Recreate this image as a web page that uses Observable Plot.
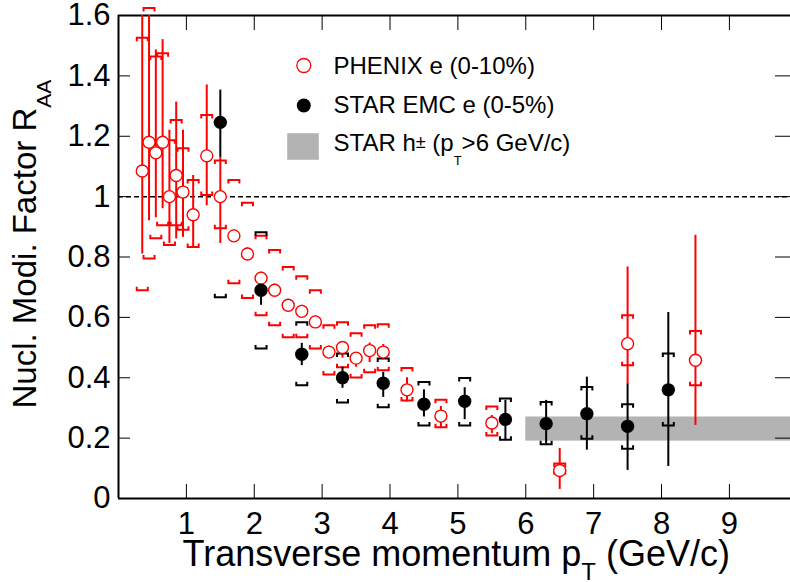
<!DOCTYPE html>
<html><head><meta charset="utf-8">
<script src="https://cdn.jsdelivr.net/npm/d3@7"></script>
<script src="https://cdn.jsdelivr.net/npm/@observablehq/plot@0.6"></script>
<style>body{margin:0;background:#fff}svg{display:block}</style>
</head><body><div id="chart"></div>
<script>
// ---- data ----
const phenixPt     = [0.35,0.45,0.55,0.65,0.75,0.85,0.95,1.1,1.3,1.5,1.7,1.9,2.1,2.3,2.5,2.7,2.9,3.1,3.3,3.5,3.7,3.9,4.25,4.75,5.5,6.5,7.5,8.5];
const phenixRaa    = [1.085,1.18,1.145,1.18,1.0,1.07,1.015,0.94,1.135,1.0,0.87,0.81,0.73,0.69,0.64,0.62,0.585,0.485,0.5,0.465,0.49,0.485,0.36,0.273,0.25,0.093,0.513,0.458];
const phenixStatLo = [0.81,0.92,0.93,0.96,0.845,0.86,0.865,0.83,0.97,0.845,0.85,0.79,0.71,0.67,0.62,0.6,0.565,0.465,0.465,0.435,0.45,0.46,0.32,0.232,0.215,0.03,0.38,0.242];
const phenixStatHi = [1.6,1.6,1.486,1.52,1.22,1.313,1.22,1.07,1.37,1.13,0.89,0.83,0.75,0.71,0.66,0.64,0.605,0.505,0.52,0.48,0.515,0.51,0.40,0.305,0.275,0.166,0.767,0.872];
const phenixSysHi  = [1.526,1.625,1.464,1.475,1.187,1.254,1.16,1.055,1.27,1.12,1.055,0.98,0.87,0.823,0.767,0.736,0.69,0.574,0.584,0.547,0.574,0.577,0.432,0.327,0.305,0.116,0.607,0.555];
const phenixSysLo  = [0.69,0.795,0.862,0.905,0.84,0.905,0.89,0.833,1.005,0.895,0.713,0.664,0.607,0.574,0.534,0.534,0.497,0.411,0.435,0.401,0.418,0.425,0.325,0.236,0.209,0.083,0.441,0.375];

const starPt     = [1.5,2.1,2.7,3.3,3.9,4.5,5.1,5.7,6.3,6.9,7.5,8.1];
const starRaa    = [1.246,0.69,0.478,0.40,0.382,0.312,0.322,0.262,0.248,0.281,0.239,0.36];
const starStatLo = [1.13,0.64,0.44,0.365,0.335,0.27,0.261,0.192,0.18,0.16,0.093,0.106];
const starStatHi = [1.353,0.74,0.514,0.435,0.418,0.36,0.367,0.325,0.325,0.402,0.38,0.616];
const starSysHi  = [null,0.882,0.584,0.48,0.464,0.386,0.399,0.331,0.32,0.369,0.312,0.48];
const starSysLo  = [0.667,0.497,0.375,0.318,0.302,0.242,0.242,0.195,0.18,0.198,0.165,0.242];

const bandX = [6, 10];          // STAR h± band pT range
const bandY = [0.19, 0.27];     // STAR h± band RAA range
const refLine = [1];
const xDomain = [0, 9.9];
const yDomain = [0, 1.6];
const xTicks = [1,2,3,4,5,6,7,8,9];
const yTicks = [0,0.2,0.4,0.6,0.8,1,1.2,1.4,1.6];
const legendLabels = ["PHENIX e (0-10%)", "STAR EMC e (0-5%)", "STAR h\u00b1 (pT>6 GeV/c)"];
const xTitle = "Transverse momentum pT (GeV/c)";
const yTitle = "Nucl. Modi. Factor RAA";

// ---- tables ----
const phenix = phenixPt.map((x,i)=>({x, y: phenixRaa[i], lo: phenixStatLo[i], hi: phenixStatHi[i], slo: phenixSysLo[i], shi: phenixSysHi[i]}));
const star = starPt.map((x,i)=>({x, y: starRaa[i], lo: starStatLo[i], hi: starStatHi[i], slo: starSysLo[i], shi: starSysHi[i]}));
const band = [{x1: bandX[0], x2: bandX[1], y1: bandY[0], y2: bandY[1]}];

// ---- layout ----
const W = 790, H = 582, mL = 118, mR = 0, mT = 15, mB = 84;
const FW = W - mL - mR, FH = H - mT - mB;
const RED = "#ff0000", GRAY = "#b3b3b3";
const FONT = "Liberation Sans, Arial, Helvetica, sans-serif";

const bracketUp = {draw(c){ c.moveTo(-5.5,3.5); c.lineTo(-5.5,0); c.lineTo(5.5,0); c.lineTo(5.5,3.5); }};
const bracketDown = {draw(c){ c.moveTo(-5.5,-3.5); c.lineTo(-5.5,0); c.lineTo(5.5,0); c.lineTo(5.5,-3.5); }};
const legendBox = {draw(c){ c.rect(-15.8,-13.3,31.6,26.6); }};

const svg = Plot.plot({
  width: W, height: H,
  marginLeft: mL, marginRight: mR, marginTop: mT, marginBottom: mB,
  style: {fontFamily: FONT, color: "black", background: "white", overflow: "hidden"},
  x: {domain: xDomain},
  y: {domain: yDomain},
  marks: [
    Plot.rect(band, {x1: "x1", x2: "x2", y1: "y1", y2: "y2", fill: GRAY}),
    Plot.ruleY(refLine, {y: d => d, stroke: "black", strokeWidth: 1.5, strokeDasharray: "5,3"}),
    // frame & ticks
    Plot.tickY(yTicks, {y: d => d, insetRight: FW - 12, stroke: "black", strokeWidth: 1}),
    Plot.tickY(yTicks, {y: d => d, insetLeft: FW - 15, stroke: "black", strokeWidth: 1}),
    Plot.tickX(xTicks, {x: d => d, insetTop: FH - 14, stroke: "black", strokeWidth: 1}),
    Plot.tickX(xTicks, {x: d => d, insetBottom: FH - 15, stroke: "black", strokeWidth: 1}),
    Plot.ruleX([xDomain[0]], {x: d => d, stroke: "black", strokeWidth: 2}),
    Plot.ruleY(yDomain, {y: d => d, stroke: "black", strokeWidth: 2}),
    Plot.axisX(xTicks, {tickSize: 0, tickPadding: 13, fontSize: 31, label: null, tickFormat: d => String(d)}),
    Plot.axisY(yTicks, {tickSize: 0, tickPadding: 8, fontSize: 31, label: null, tickFormat: d => String(d)}),
    // PHENIX errors
    Plot.ruleX(phenix, {x: "x", y1: "lo", y2: "hi", stroke: RED, strokeWidth: 2}),
    Plot.dot(phenix, {x: "x", y: "shi", symbol: bracketUp, r: 5, stroke: RED, fill: "none", strokeWidth: 2}),
    Plot.dot(phenix, {x: "x", y: "slo", symbol: bracketDown, r: 5, stroke: RED, fill: "none", strokeWidth: 2}),
    // STAR errors
    Plot.ruleX(star, {x: "x", y1: "lo", y2: "hi", stroke: "black", strokeWidth: 2}),
    Plot.dot(star.filter(d => d.shi != null), {x: "x", y: "shi", symbol: bracketUp, r: 5, stroke: "black", fill: "none", strokeWidth: 2}),
    Plot.dot(star, {x: "x", y: "slo", symbol: bracketDown, r: 5, stroke: "black", fill: "none", strokeWidth: 2}),
    // markers
    Plot.dot(phenix, {x: "x", y: "y", r: 6, stroke: RED, fill: "white", strokeWidth: 1.4}),
    Plot.dot(star, {x: "x", y: "y", r: 6.7, fill: "black"}),
    // legend
    Plot.dot([0], {frameAnchor: "top-left", dx: 185.3, dy: 50, r: 7, stroke: RED, fill: "white", strokeWidth: 1.3}),
    Plot.dot([0], {frameAnchor: "top-left", dx: 185.3, dy: 90, r: 7, fill: "black"}),
    Plot.dot([0], {frameAnchor: "top-left", dx: 184.5, dy: 131, symbol: legendBox, r: 5, fill: GRAY}),
    Plot.text([legendLabels[0]], {frameAnchor: "top-left", dx: 215, dy: 58.3, text: d => d, textAnchor: "start", lineAnchor: "bottom", fontSize: 24}),
    Plot.text([legendLabels[1]], {frameAnchor: "top-left", dx: 215, dy: 97.7, text: d => d, textAnchor: "start", lineAnchor: "bottom", fontSize: 24}),
    Plot.text([legendLabels[2]], {frameAnchor: "top-left", dx: 215, dy: 135, text: d => d, textAnchor: "start", lineAnchor: "bottom", fontSize: 24}),
    // axis titles
    Plot.text([xTitle], {frameAnchor: "bottom-left", dx: 64, dy: 67, text: d => d, textAnchor: "start", lineAnchor: "bottom", fontSize: 36}),
    Plot.text([yTitle], {frameAnchor: "left", dx: -83, dy: 151.5, rotate: -90, text: d => d, textAnchor: "start", lineAnchor: "bottom", fontSize: 33})
  ]
});

function rich(root, plain, parts) {
  d3.select(root).selectAll("text").filter(function(){ return this.textContent === plain; }).each(function(){
    const t = d3.select(this);
    t.text("");
    let cur = 0;
    for (const p of parts) {
      const s = t.append("tspan").text(p.t);
      const shift = p.dy || 0;
      if (shift !== cur) s.attr("dy", shift - cur);
      cur = shift;
      if (p.size) s.attr("font-size", p.size);
    }
  });
}
rich(svg, xTitle, [{t: "Transverse momentum p"}, {t: "T", dy: 14, size: 24}, {t: " (GeV/c)", dy: 0}]);
rich(svg, yTitle, [{t: "Nucl. Modi. Factor R"}, {t: "AA", dy: 15, size: 21}]);
rich(svg, legendLabels[2], [{t: "STAR h"}, {t: "\u00b1", dy: -3, size: 18}, {t: " (p", dy: 0}, {t: "T", dy: 14, size: 13}, {t: ">6 GeV/c)", dy: 0}]);

document.getElementById("chart").appendChild(svg);
</script>
</body></html>
